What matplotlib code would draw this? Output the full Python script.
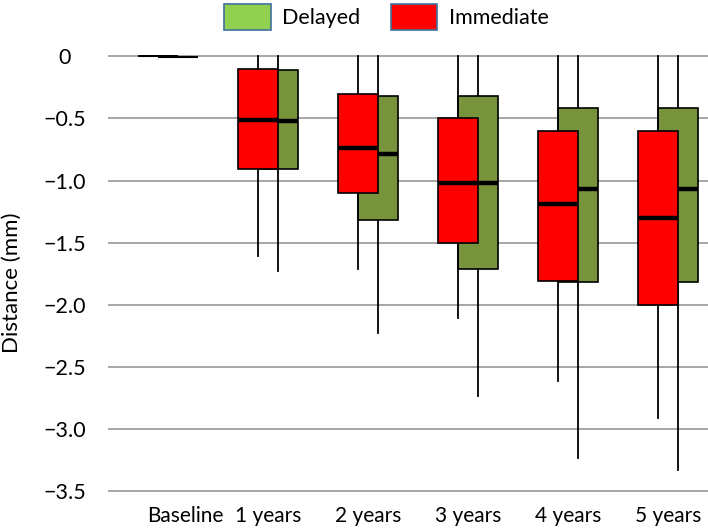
import matplotlib
matplotlib.use("Agg")
import matplotlib.pyplot as plt
from matplotlib.patches import Patch
from matplotlib.transforms import ScaledTranslation

# === DATA ===
groups = ["Baseline", "1 years", "2 years", "3 years", "4 years", "5 years"]

# Immediate (red)
imm_lo  = [0.0, -1.61, -1.71, -2.11, -2.61, -2.91]
imm_q1  = [0.0, -0.91, -1.10, -1.50, -1.81, -2.00]
imm_med = [0.0, -0.51, -0.74, -1.02, -1.19, -1.30]
imm_q3  = [0.0, -0.10, -0.30, -0.50, -0.60, -0.60]
imm_hi  = [0.0, 0.0, 0.0, 0.0, 0.0, 0.0]

# Delayed (green)
del_lo  = [-0.01, -1.73, -2.23, -2.73, -3.23, -3.33]
del_q1  = [-0.01, -0.91, -1.32, -1.71, -1.82, -1.82]
del_med = [-0.01, -0.52, -0.79, -1.02, -1.07, -1.07]
del_q3  = [-0.01, -0.11, -0.32, -0.32, -0.42, -0.42]
del_hi  = [-0.01, 0.0, 0.0, 0.0, 0.0, 0.0]

y_ticks = [0, -0.5, -1.0, -1.5, -2.0, -2.5, -3.0, -3.5]
y_tick_labels = ["0", "\u22120.5", "\u22121.0", "\u22121.5", "\u22122.0",
                 "\u22122.5", "\u22123.0", "\u22123.5"]

# === STYLE ===
RED = "#FF0000"
OLIVE = "#77933C"
LEGEND_GREEN = "#92D050"
LEGEND_EDGE = "#41719C"
GRID = "#A6A6A6"
plt.rcParams["font.family"] = ["Lato", "DejaVu Sans"]


def make_stats(lo, q1, med, q3, hi):
    return [{"whislo": a, "q1": b, "med": c, "q3": d, "whishi": e, "fliers": []}
            for a, b, c, d, e in zip(lo, q1, med, q3, hi)]


fig = plt.figure(figsize=(7.08, 5.29), dpi=100)
ax = fig.add_axes([108 / 708, 36.5 / 529, 600 / 708, 437.5 / 529])

pos = list(range(len(groups)))
width = 0.4
offset = 0.1


def draw(stats, positions, color, z):
    out = ax.bxp(stats, positions=positions, widths=width, patch_artist=True,
                 showcaps=False, showfliers=False, manage_ticks=False,
                 boxprops=dict(facecolor=color, edgecolor="black", linewidth=1.2, zorder=z + 1),
                 whiskerprops=dict(color="black", linewidth=1.3, zorder=z),
                 medianprops=dict(color="black", linewidth=3.2, solid_capstyle="butt", zorder=z + 2))
    # baseline box is collapsed to a thin line
    out["medians"][0].set_linewidth(1.5)
    return out


draw(make_stats(del_lo, del_q1, del_med, del_q3, del_hi), [p + offset for p in pos], OLIVE, 2)
draw(make_stats(imm_lo, imm_q1, imm_med, imm_q3, imm_hi), [p - offset for p in pos], RED, 6)

ax.set_xlim(-0.6, 5.4)
ax.set_ylim(-3.51, 0.01)
ax.set_yticks(y_ticks)
ax.set_yticklabels(y_tick_labels, ha="center")
ax.set_xticks(pos)
ax.set_xticklabels(groups)
ax.tick_params(axis="y", length=0, pad=31, labelsize=15.5)
ax.tick_params(axis="x", length=0, pad=10, labelsize=15)
# baseline label sits a bit right of its category in the original
lbl = ax.get_xticklabels()[0]
lbl.set_transform(lbl.get_transform() + ScaledTranslation(0.17, 0, fig.dpi_scale_trans))

ax.yaxis.grid(True, color=GRID, linewidth=1.4)
ax.set_axisbelow(True)
for s in ax.spines.values():
    s.set_visible(False)

ax.set_ylabel("Distance (mm)", fontsize=16)
ax.yaxis.set_label_coords(-0.143, 0.48)

handles = [Patch(facecolor=LEGEND_GREEN, edgecolor=LEGEND_EDGE, linewidth=1.2, label="Delayed"),
           Patch(facecolor=RED, edgecolor=LEGEND_EDGE, linewidth=1.2, label="Immediate")]
fig.legend(handles=handles, loc="center", bbox_to_anchor=(0.546, 0.968), ncol=2,
           frameon=False, fontsize=15.5, handlelength=2.15, handleheight=1.5,
           handletextpad=0.55, columnspacing=1.4, borderpad=0)

fig.savefig("out.png", dpi=100)
